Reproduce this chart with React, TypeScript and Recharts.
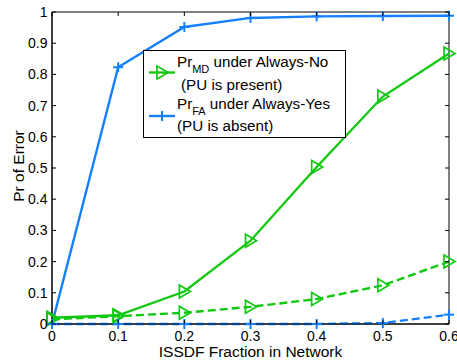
import { LineChart, Line, XAxis, YAxis, ReferenceArea } from 'recharts';

// ISSDF fraction in the network (x axis)
const fractions = [0, 0.1, 0.2, 0.3, 0.4, 0.5, 0.6];
// Pr_MD under Always-No (green), solid and dashed curves
const mdSolid = [0.02, 0.028, 0.104, 0.267, 0.503, 0.729, 0.867];
const mdDashed = [0.015, 0.025, 0.036, 0.055, 0.08, 0.124, 0.2];
// Pr_FA under Always-Yes (blue), solid and dashed curves
const faSolid = [0, 0.823, 0.952, 0.981, 0.986, 0.987, 0.988];
const faDashed = [0, 0, 0, 0, 0, 0.003, 0.03];

const xTicks = [0, 0.1, 0.2, 0.3, 0.4, 0.5, 0.6];
const yTicks = [0, 0.1, 0.2, 0.3, 0.4, 0.5, 0.6, 0.7, 0.8, 0.9, 1];

const BLUE = '#1580ff';
const GREEN = '#12c812';
const FONT = '"Liberation Sans", Arial, Helvetica, sans-serif';

const W = 457;
const H = 362;
const PLOT_LEFT = 52;
const PLOT_RIGHT = 449;
const PLOT_TOP = 12;
const PLOT_BOTTOM = 324;
const TICK = 4;
const LW = 2.4;

const data = fractions.map((x, i) => ({
  x,
  mdSolid: mdSolid[i],
  mdDashed: mdDashed[i],
  faSolid: faSolid[i],
  faDashed: faDashed[i],
}));

function Tri({ cx, cy, color }: { cx: number; cy: number; color: string }) {
  return (
    <polygon
      points={`${cx - 5},${cy - 6.5} ${cx - 5},${cy + 6.5} ${cx + 6},${cy}`}
      fill="none"
      stroke={color}
      strokeWidth={1.7}
    />
  );
}

function Plus({ cx, cy, color }: { cx: number; cy: number; color: string }) {
  return (
    <g stroke={color} strokeWidth={2}>
      <line x1={cx - 5} y1={cy} x2={cx + 5} y2={cy} />
      <line x1={cx} y1={cy - 5} x2={cx} y2={cy + 5} />
    </g>
  );
}

const triDot = (props: any) => <Tri key={props.index} cx={props.cx} cy={props.cy} color={GREEN} />;
const plusDot = (props: any) => <Plus key={props.index} cx={props.cx} cy={props.cy} color={BLUE} />;

const XTick = (props: any) => {
  const { x, payload } = props;
  return (
    <g>
      <line x1={x} y1={PLOT_BOTTOM} x2={x} y2={PLOT_BOTTOM - TICK} stroke="#000" />
      <line x1={x} y1={PLOT_TOP} x2={x} y2={PLOT_TOP + TICK} stroke="#000" />
      <text x={x} y={PLOT_BOTTOM + 16.5} textAnchor="middle" fontSize={14} fontFamily={FONT} fill="#000">
        {String(payload.value)}
      </text>
    </g>
  );
};

const YTick = (props: any) => {
  const { y, payload } = props;
  return (
    <g>
      <line x1={PLOT_LEFT} y1={y} x2={PLOT_LEFT + TICK} y2={y} stroke="#000" />
      <line x1={PLOT_RIGHT} y1={y} x2={PLOT_RIGHT - TICK} y2={y} stroke="#000" />
      <text x={PLOT_LEFT - 4.5} y={y + 5} textAnchor="end" fontSize={14} fontFamily={FONT} fill="#000">
        {String(payload.value)}
      </text>
    </g>
  );
};

function LegendBox() {
  return (
    <svg width={W} height={H} style={{ position: 'absolute', left: 0, top: 0, pointerEvents: 'none' }}>
      <rect x={143.5} y={50.5} width={202} height={87} fill="#fff" stroke="#000" strokeWidth={1} />
      <line x1={149} y1={72.5} x2={175} y2={72.5} stroke={GREEN} strokeWidth={LW} />
      <Tri cx={162} cy={72.5} color={GREEN} />
      <line x1={149} y1={116} x2={175} y2={116} stroke={BLUE} strokeWidth={LW} />
      <Plus cx={162} cy={116} color={BLUE} />
      <g fontFamily={FONT} fontSize={15.2} fill="#000">
        <text x={177} y={66.7}>
          Pr<tspan fontSize={11} dy={6}>MD</tspan>
          <tspan dy={-6}> under Always-No</tspan>
        </text>
        <text x={181} y={89.5}>(PU is present)</text>
        <text x={177} y={108.5}>
          Pr<tspan fontSize={11} dy={6}>FA</tspan>
          <tspan dy={-6}> under Always-Yes</tspan>
        </text>
        <text x={177} y={130.5}>(PU is absent)</text>
      </g>
    </svg>
  );
}

export default function App() {
  return (
    <div style={{ position: 'absolute', left: 0, top: 0, width: W, height: H, background: '#fff' }}>
      <LineChart
        width={W}
        height={H}
        data={data}
        margin={{ top: PLOT_TOP, right: W - PLOT_RIGHT, bottom: 8, left: PLOT_LEFT - 40 }}
      >
        <ReferenceArea x1={0} x2={0.6} y1={0} y2={1} fill="none" stroke="#000" strokeWidth={1} />
        <XAxis
          dataKey="x"
          type="number"
          domain={[0, 0.6]}
          ticks={xTicks}
          interval={0}
          height={30}
          tickLine={false}
          tickSize={0}
          tickMargin={0}
          axisLine={{ stroke: '#000' }}
          tick={XTick}
          label={{
            content: () => (
              <text x={250.5} y={357} textAnchor="middle" fontSize={15.5} fontFamily={FONT} fill="#000">
                ISSDF Fraction in Network
              </text>
            ),
          }}
        />
        <YAxis
          type="number"
          domain={[0, 1]}
          ticks={yTicks}
          interval={0}
          width={40}
          tickLine={false}
          tickSize={0}
          tickMargin={0}
          axisLine={{ stroke: '#000' }}
          tick={YTick}
          label={{
            content: () => (
              <text
                transform="translate(24,166) rotate(-90)"
                x={0}
                y={0}
                textAnchor="middle"
                fontSize={15.5}
                fontFamily={FONT}
                fill="#000"
              >
                Pr of Error
              </text>
            ),
          }}
        />
        <Line dataKey="mdSolid" stroke={GREEN} strokeWidth={LW} dot={triDot} isAnimationActive={false} />
        <Line dataKey="faSolid" stroke={BLUE} strokeWidth={LW} dot={plusDot} isAnimationActive={false} />
        <Line
          dataKey="mdDashed"
          stroke={GREEN}
          strokeWidth={LW}
          strokeDasharray="8 4"
          dot={triDot}
          isAnimationActive={false}
        />
        <Line
          dataKey="faDashed"
          stroke={BLUE}
          strokeWidth={LW}
          strokeDasharray="8 4"
          dot={plusDot}
          isAnimationActive={false}
        />
      </LineChart>
      <LegendBox />
    </div>
  );
}
